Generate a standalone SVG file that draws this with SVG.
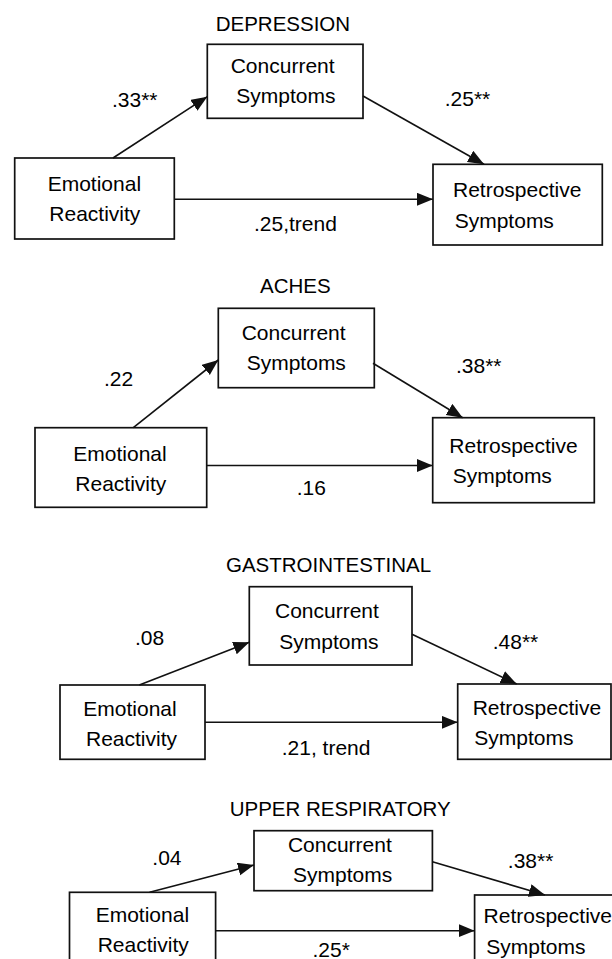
<svg xmlns="http://www.w3.org/2000/svg" width="612" height="959" viewBox="0 0 612 959">
<style>
text{font-family:"Liberation Sans",Arial,sans-serif;font-size:21px;fill:#000}
.t{font-size:20.5px}
rect.n{fill:#fff;stroke:#111;stroke-width:1.7}
line.c{stroke:#111;stroke-width:1.6;marker-end:url(#ah)}
</style>
<defs>
<marker id="ah" markerUnits="userSpaceOnUse" markerWidth="18" markerHeight="14" refX="16" refY="6.5" orient="auto">
<path d="M0,0 L16,6.5 L0,13 z" fill="#111"/>
</marker>
</defs>
<rect x="0" y="0" width="612" height="959" fill="#fff"/>

<!-- Panel 1 -->
<text class="t" x="215.7" y="30.7">DEPRESSION</text>
<g id="p1-conc"><rect class="n" x="207.3" y="44.3" width="155.7" height="74"/><text x="230.7" y="72.7">Concurrent</text><text x="236.3" y="103.3">Symptoms</text></g>
<g id="p1-emo"><rect class="n" x="14.7" y="158" width="159.6" height="81"/><text x="47.7" y="190.7">Emotional</text><text x="49.3" y="221">Reactivity</text></g>
<g id="p1-retro"><rect class="n" x="433" y="164.3" width="169.3" height="80.7"/><text x="453" y="196.7">Retrospective</text><text x="454.7" y="228">Symptoms</text></g>
<g id="p1-edges">
<line class="c" x1="113" y1="158" x2="207.3" y2="96.7"/>
<line class="c" x1="363" y1="96" x2="484" y2="164.3"/>
<line class="c" x1="174.3" y1="199.3" x2="433" y2="199.3"/>
<text x="112" y="107">.33**</text>
<text x="444.7" y="106">.25**</text>
<text x="254" y="230.7">.25,trend</text>
</g>

<!-- Panel 2 -->
<text class="t" x="260" y="293.3">ACHES</text>
<g id="p2-conc"><rect class="n" x="218.3" y="308.3" width="156" height="79.4"/><text x="241.7" y="339.5">Concurrent</text><text x="246.7" y="370">Symptoms</text></g>
<g id="p2-emo"><rect class="n" x="35" y="427.7" width="171.7" height="79.6"/><text x="73.3" y="461">Emotional</text><text x="75.3" y="491">Reactivity</text></g>
<g id="p2-retro"><rect class="n" x="432.7" y="417.7" width="161.6" height="85"/><text x="449.3" y="453.3">Retrospective</text><text x="452.7" y="483.3">Symptoms</text></g>
<g id="p2-edges">
<line class="c" x1="133.3" y1="427.7" x2="218.3" y2="360"/>
<line class="c" x1="373" y1="363.3" x2="462.7" y2="417.7"/>
<line class="c" x1="206.7" y1="465.5" x2="432.7" y2="465.5"/>
<text x="104" y="385.5">.22</text>
<text x="456" y="373.3">.38**</text>
<text x="296.7" y="495">.16</text>
</g>

<!-- Panel 3 -->
<text class="t" x="226" y="572.3">GASTROINTESTINAL</text>
<g id="p3-conc"><rect class="n" x="249.3" y="586.7" width="162.7" height="78.3"/><text x="275" y="618.3">Concurrent</text><text x="279.3" y="649.3">Symptoms</text></g>
<g id="p3-emo"><rect class="n" x="60" y="685" width="145" height="74.3"/><text x="83.3" y="716">Emotional</text><text x="86" y="746">Reactivity</text></g>
<g id="p3-retro"><rect class="n" x="457.7" y="684" width="153.3" height="75.3"/><text x="472.7" y="715">Retrospective</text><text x="474.3" y="745">Symptoms</text></g>
<g id="p3-edges">
<line class="c" x1="139.3" y1="685" x2="249.3" y2="642.3"/>
<line class="c" x1="412" y1="634.3" x2="516.7" y2="684"/>
<line class="c" x1="205" y1="722.3" x2="457.7" y2="722.3"/>
<text x="135" y="645">.08</text>
<text x="492.7" y="649.3">.48**</text>
<text x="281.7" y="755">.21, trend</text>
</g>

<!-- Panel 4 -->
<text class="t" x="229.7" y="816">UPPER RESPIRATORY</text>
<g id="p4-conc"><rect class="n" x="254" y="830.7" width="178.4" height="60"/><text x="287.9" y="851.7">Concurrent</text><text x="293" y="881.7">Symptoms</text></g>
<g id="p4-emo"><rect class="n" x="69.5" y="892.3" width="146.1" height="90"/><text x="95.7" y="921.7">Emotional</text><text x="97.7" y="951.7">Reactivity</text></g>
<g id="p4-retro"><rect class="n" x="474.6" y="895" width="160" height="90"/><text x="483.6" y="923.3">Retrospective</text><text x="486.3" y="954">Symptoms</text></g>
<g id="p4-edges">
<line class="c" x1="149.6" y1="892.3" x2="254" y2="865"/>
<line class="c" x1="432.4" y1="861.7" x2="545" y2="895"/>
<line class="c" x1="215.6" y1="930.7" x2="474.6" y2="930.7"/>
<text x="152.3" y="865">.04</text>
<text x="507.8" y="868.3">.38**</text>
<text x="312.5" y="956.7">.25*</text>
</g>
</svg>
